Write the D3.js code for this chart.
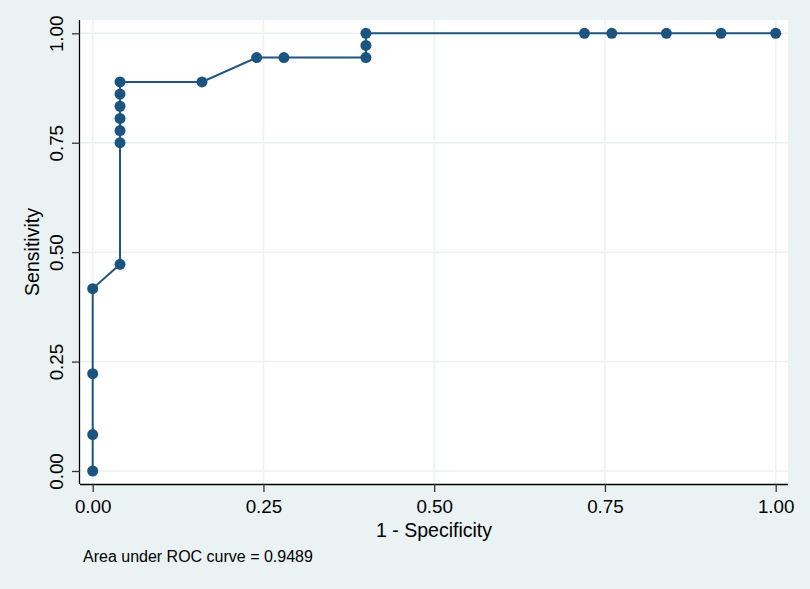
<!DOCTYPE html>
<html>
<head>
<meta charset="utf-8">
<script src="https://cdn.jsdelivr.net/npm/d3@7"></script>
<style>
  html, body { margin: 0; padding: 0; background: #EAF2F3; }
  svg { display: block; }
  text { font-family: "Liberation Sans", Arial, Helvetica, sans-serif; fill: #000; }
</style>
</head>
<body>
<svg id="chart" width="810" height="589"></svg>
<script>
// 1 - Specificity (x) and Sensitivity (y) of each ROC point
const specComplement = [0, 0, 0, 0, 0.04, 0.04, 0.04, 0.04, 0.04, 0.04, 0.04, 0.16, 0.24, 0.28, 0.40, 0.40, 0.40, 0.72, 0.76, 0.84, 0.92, 1.00];
const sensitivity = [0, 3/36, 8/36, 15/36, 17/36, 27/36, 28/36, 29/36, 30/36, 31/36, 32/36, 32/36, 34/36, 34/36, 34/36, 35/36, 1, 1, 1, 1, 1, 1];
const tickValues = [0, 0.25, 0.5, 0.75, 1];
const tickLabels = ["0.00", "0.25", "0.50", "0.75", "1.00"];
const xTitle = "1 - Specificity";
const yTitle = "Sensitivity";
const note = "Area under ROC curve = 0.9489";

const points = specComplement.map((x, i) => ({ x, y: sensitivity[i] }));

const svg = d3.select("#chart");
const W = 810, H = 589;
svg.append("rect").attr("width", W).attr("height", H).attr("fill", "#EAF2F3");

const plot = { left: 80, right: 788, top: 20, bottom: 484 };
const x = d3.scaleLinear().domain([0, 1]).range([92.7, 775.7]);
const y = d3.scaleLinear().domain([0, 1]).range([471, 33.3]);

// plot region
svg.append("rect")
  .attr("x", plot.left).attr("y", plot.top)
  .attr("width", plot.right - plot.left).attr("height", plot.bottom - plot.top)
  .attr("fill", "#ffffff");

// gridlines
const grid = svg.append("g");
grid.selectAll("line.vg").data(tickValues).join("line")
  .attr("x1", d => x(d)).attr("x2", d => x(d))
  .attr("y1", plot.top).attr("y2", plot.bottom)
  .attr("stroke", "#EAF2F3").attr("stroke-width", 1.5);
grid.selectAll("line.hg").data(tickValues).join("line")
  .attr("x1", plot.left).attr("x2", plot.right)
  .attr("y1", d => y(d)).attr("y2", d => y(d))
  .attr("stroke", "#EAF2F3").attr("stroke-width", 1.5);

// axes
const fmt = d => tickLabels[tickValues.indexOf(d)];
const xAxis = d3.axisBottom(x).tickValues(tickValues).tickFormat(fmt).tickSize(8).tickPadding(4);
const yAxis = d3.axisLeft(y).tickValues(tickValues).tickFormat(fmt).tickSize(8);

const gx = svg.append("g").attr("transform", `translate(0,${plot.bottom})`).call(xAxis);
gx.select(".domain").attr("d", `M${plot.left},0.5H${plot.right}`).attr("stroke", "#000").attr("stroke-width", 1.3);
gx.selectAll(".tick line").attr("stroke", "#333").attr("stroke-width", 1.3);
gx.selectAll(".tick text")
  .attr("y", 29).attr("dy", null)
  .style("font-family", '"Liberation Sans", Arial, sans-serif')
  .style("font-size", "18.8px").attr("fill", "#000");

const gy = svg.append("g").attr("transform", `translate(${plot.left},0)`).call(yAxis);
gy.select(".domain").attr("d", `M-0.5,${plot.top}V${plot.bottom}`).attr("stroke", "#000").attr("stroke-width", 1.3);
gy.selectAll(".tick line").attr("stroke", "#333").attr("stroke-width", 1.3);
gy.selectAll(".tick text")
  .attr("x", null).attr("dy", null)
  .attr("transform", "translate(-17,0) rotate(-90)")
  .attr("text-anchor", "middle")
  .style("font-family", '"Liberation Sans", Arial, sans-serif')
  .style("font-size", "18.8px").attr("fill", "#000");

// ROC line
const line = d3.line().x(d => x(d.x)).y(d => y(d.y));
svg.append("path").datum(points)
  .attr("d", line)
  .attr("fill", "none")
  .attr("stroke", "#1F5580")
  .attr("stroke-width", 2);

// markers
svg.append("g").selectAll("circle").data(points).join("circle")
  .attr("cx", d => x(d.x)).attr("cy", d => y(d.y))
  .attr("r", 5.5)
  .attr("fill", "#1C5480");

// titles
svg.append("text")
  .attr("x", (plot.left + plot.right) / 2).attr("y", 537)
  .attr("text-anchor", "middle")
  .style("font-size", "19.5px")
  .text(xTitle);

svg.append("text")
  .attr("transform", `translate(39,${(plot.top + plot.bottom) / 2}) rotate(-90)`)
  .attr("text-anchor", "middle")
  .style("font-size", "19.5px")
  .text(yTitle);

svg.append("text")
  .attr("x", 83).attr("y", 562)
  .style("font-size", "16px")
  .text(note);
</script>
</body>
</html>
